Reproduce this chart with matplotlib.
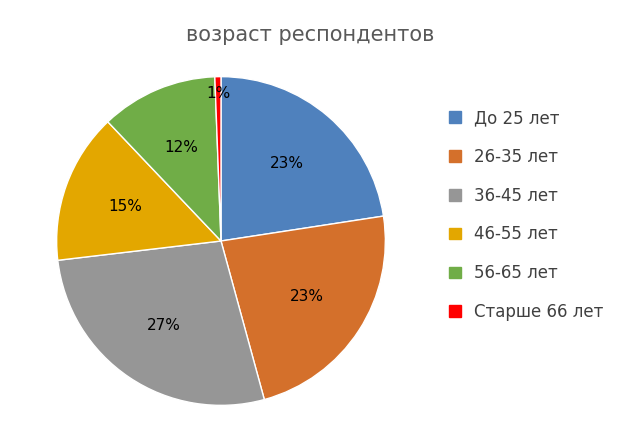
import numpy as np
import matplotlib.pyplot as plt
from matplotlib.patches import Patch

categories = ["До 25 лет", "26-35 лет", "36-45 лет", "46-55 лет", "56-65 лет", "Старше 66 лет"]
values = [22.6, 23.2, 27.4, 14.8, 11.5, 0.6]
labels = ["23%", "23%", "27%", "15%", "12%", "1%"]
colors = ["#4f81bd", "#d4702b", "#969696", "#e3a700", "#70ad47", "#ff0000"]

fig = plt.figure(figsize=(6.2, 4.3), dpi=100)
fig.text(0.5, 0.905, "возраст респондентов", ha="center", fontsize=15, color="#595959")

ax = fig.add_axes([55 / 620, 23 / 430, 332 / 620, 332 / 430])
wedges, texts = ax.pie(values, colors=colors, startangle=90, counterclock=False,
                       wedgeprops=dict(edgecolor="white", linewidth=1))
for w, lab in zip(wedges, labels):
    ang = np.deg2rad((w.theta1 + w.theta2) / 2)
    r = 0.62 if lab != "1%" else 0.9
    ax.text(r * np.cos(ang), r * np.sin(ang), lab, ha="center", va="center", fontsize=11)
ax.set_aspect("equal")
ax.set_xlim(-1.01, 1.01)
ax.set_ylim(-1.01, 1.01)

handles = [Patch(color=c) for c in colors]
fig.legend(handles, categories, loc="center left", bbox_to_anchor=(0.7, 0.5),
           frameon=False, fontsize=12, labelcolor="#404040",
           handlelength=0.7, handleheight=0.7, labelspacing=1.25)
fig.savefig("out.png")
